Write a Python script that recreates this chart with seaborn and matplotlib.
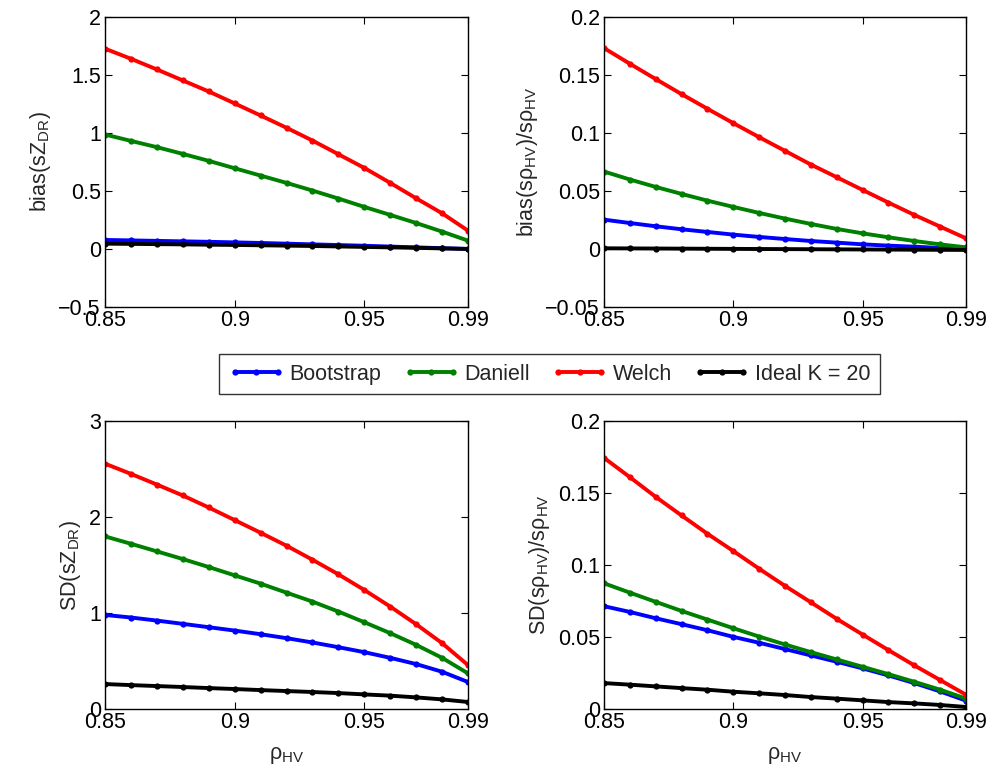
import numpy as np
import pandas as pd
import matplotlib
matplotlib.use("Agg")
import matplotlib.pyplot as plt
import seaborn as sns
from matplotlib.ticker import FuncFormatter

# correlation coefficient grid
rho_hv = [0.85, 0.86, 0.87, 0.88, 0.89, 0.90, 0.91, 0.92, 0.93, 0.94, 0.95, 0.96, 0.97, 0.98, 0.99]

methods = ["Bootstrap", "Daniell", "Welch", "Ideal K = 20"]
colors = {"Bootstrap": "#0000ff", "Daniell": "#008000", "Welch": "#ff0000", "Ideal K = 20": "#000000"}

# bias of the spectral differential reflectivity
bias_zdr_bootstrap = [0.078, 0.074, 0.070, 0.066, 0.062, 0.057, 0.052, 0.046, 0.040, 0.034, 0.028, 0.021, 0.014, 0.007, 0.000]
bias_zdr_daniell = [0.987, 0.932, 0.878, 0.820, 0.760, 0.696, 0.633, 0.570, 0.504, 0.435, 0.363, 0.294, 0.224, 0.150, 0.072]
bias_zdr_welch = [1.727, 1.640, 1.548, 1.453, 1.358, 1.255, 1.151, 1.045, 0.935, 0.817, 0.699, 0.570, 0.437, 0.308, 0.158]
bias_zdr_ideal = [0.046, 0.044, 0.042, 0.040, 0.037, 0.035, 0.032, 0.029, 0.026, 0.022, 0.018, 0.014, 0.010, 0.005, 0.001]

# normalised bias of the spectral co-polar correlation coefficient
bias_rho_bootstrap = [0.0253, 0.0224, 0.0196, 0.0170, 0.0147, 0.0124, 0.0104, 0.0086, 0.0069, 0.0055, 0.0040, 0.0029, 0.0020, 0.0009, 0.0000]
bias_rho_daniell = [0.0668, 0.0599, 0.0535, 0.0475, 0.0417, 0.0363, 0.0311, 0.0262, 0.0216, 0.0173, 0.0135, 0.0101, 0.0069, 0.0040, 0.0014]
bias_rho_welch = [0.1732, 0.1597, 0.1465, 0.1335, 0.1209, 0.1085, 0.0964, 0.0846, 0.0728, 0.0619, 0.0509, 0.0400, 0.0294, 0.0193, 0.0092]
bias_rho_ideal = [0.0006, 0.0005, 0.0004, 0.0003, 0.0002, 0.0001, 0.0000, -0.0001, -0.0002, -0.0003, -0.0004, -0.0005, -0.0006, -0.0007, -0.0008]

# standard deviation of the spectral differential reflectivity
sd_zdr_bootstrap = [0.980, 0.953, 0.921, 0.887, 0.852, 0.817, 0.779, 0.738, 0.693, 0.644, 0.592, 0.533, 0.468, 0.388, 0.281]
sd_zdr_daniell = [1.798, 1.721, 1.642, 1.562, 1.479, 1.392, 1.306, 1.212, 1.119, 1.015, 0.904, 0.790, 0.668, 0.533, 0.371]
sd_zdr_welch = [2.556, 2.449, 2.338, 2.224, 2.099, 1.968, 1.836, 1.701, 1.555, 1.403, 1.240, 1.067, 0.883, 0.686, 0.457]
sd_zdr_ideal = [0.260, 0.249, 0.239, 0.229, 0.218, 0.208, 0.197, 0.187, 0.177, 0.166, 0.152, 0.139, 0.121, 0.100, 0.073]

# normalised standard deviation of the spectral co-polar correlation coefficient
sd_rho_bootstrap = [0.0714, 0.0674, 0.0630, 0.0589, 0.0547, 0.0501, 0.0460, 0.0416, 0.0372, 0.0328, 0.0282, 0.0233, 0.0180, 0.0122, 0.0058]
sd_rho_daniell = [0.0873, 0.0808, 0.0744, 0.0681, 0.0621, 0.0561, 0.0503, 0.0448, 0.0395, 0.0344, 0.0293, 0.0242, 0.0189, 0.0134, 0.0072]
sd_rho_welch = [0.1744, 0.1610, 0.1473, 0.1344, 0.1217, 0.1097, 0.0974, 0.0855, 0.0741, 0.0626, 0.0517, 0.0409, 0.0303, 0.0201, 0.0099]
sd_rho_ideal = [0.0180, 0.0169, 0.0157, 0.0145, 0.0134, 0.0120, 0.0109, 0.0097, 0.0083, 0.0072, 0.0060, 0.0048, 0.0039, 0.0028, 0.0014]

x_ticks = [0.85, 0.9, 0.95, 0.99]

FS = 15.5

sns.set_style("ticks")
plt.rcParams.update({
    "font.family": ["Liberation Sans", "DejaVu Sans"],
    "mathtext.fontset": "custom",
    "mathtext.rm": "Liberation Sans",
    "mathtext.it": "Liberation Sans:italic",
    "mathtext.bf": "Liberation Sans:bold",
    "font.size": FS,
    "xtick.direction": "in",
    "ytick.direction": "in",
    "xtick.top": True,
    "ytick.right": True,
    "xtick.major.size": 5,
    "ytick.major.size": 5,
    "xtick.major.width": 0.8,
    "ytick.major.width": 0.8,
    "axes.linewidth": 1.0,
    "axes.edgecolor": "black",
    "xtick.color": "black",
    "ytick.color": "black",
    "xtick.labelsize": FS,
    "ytick.labelsize": FS,
})


def long_frame(series):
    rows = []
    for name, vals in zip(methods, series):
        for xv, yv in zip(rho_hv, vals):
            rows.append({"rho": xv, "value": yv, "method": name})
    return pd.DataFrame(rows)


fmt = FuncFormatter(lambda v, pos: f"{v:g}".replace("-", "\u2212"))

W, H = 995, 776
fig = plt.figure(figsize=(W / 100, H / 100), dpi=100)

panels = [
    # (left, right, top, bottom) in pixels, data, y-limits, y-ticks, y-label, x-label
    ((105, 468, 17, 307), [bias_zdr_bootstrap, bias_zdr_daniell, bias_zdr_welch, bias_zdr_ideal],
     (-0.5, 2), [-0.5, 0, 0.5, 1, 1.5, 2], r"bias(sZ$_{\mathrm{DR}}$)", None),
    ((604, 966, 17, 307), [bias_rho_bootstrap, bias_rho_daniell, bias_rho_welch, bias_rho_ideal],
     (-0.05, 0.2), [-0.05, 0, 0.05, 0.1, 0.15, 0.2], "bias(sρ$_{\\mathrm{HV}}$)/sρ$_{\\mathrm{HV}}$", None),
    ((105, 468, 421, 709), [sd_zdr_bootstrap, sd_zdr_daniell, sd_zdr_welch, sd_zdr_ideal],
     (0, 3), [0, 1, 2, 3], r"SD(sZ$_{\mathrm{DR}}$)", "ρ$_{\\mathrm{HV}}$"),
    ((604, 966, 421, 709), [sd_rho_bootstrap, sd_rho_daniell, sd_rho_welch, sd_rho_ideal],
     (0, 0.2), [0, 0.05, 0.1, 0.15, 0.2], "SD(sρ$_{\\mathrm{HV}}$)/sρ$_{\\mathrm{HV}}$", "ρ$_{\\mathrm{HV}}$"),
]

handles = None
for (l, r, t, b), series, ylim, yticks, ylabel, xlabel in panels:
    ax = fig.add_axes([l / W, 1 - b / H, (r - l) / W, (b - t) / H])
    df = long_frame(series)
    sns.lineplot(data=df, x="rho", y="value", hue="method", hue_order=methods,
                 palette=colors, marker="o", markersize=4.5, markeredgewidth=0,
                 linewidth=2.8, ax=ax, legend=True)
    handles, labels = ax.get_legend_handles_labels()
    ax.get_legend().remove()
    ax.set_xlim(0.85, 0.99)
    ax.set_ylim(*ylim)
    ax.set_xticks(x_ticks)
    ax.set_yticks(yticks)
    ax.xaxis.set_major_formatter(fmt)
    ax.yaxis.set_major_formatter(fmt)
    ax.set_ylabel(ylabel, fontsize=FS, labelpad=4)
    ax.set_xlabel(xlabel if xlabel else "", fontsize=FS, labelpad=9)
    ax.tick_params(axis="y", pad=3)
    ax.tick_params(axis="x", pad=2)
    for s in ax.spines.values():
        s.set_visible(True)

leg = fig.legend(handles, labels, loc="center", bbox_to_anchor=(549.5 / W, 1 - 374 / H),
                 ncol=4, frameon=True, fancybox=False, edgecolor="black", fontsize=FS,
                 handlelength=2.6, handletextpad=0.25, columnspacing=1.0,
                 borderpad=0.45, borderaxespad=0, numpoints=3)
leg.get_frame().set_linewidth(1.0)
for ln in leg.get_lines():
    ln.set_linewidth(2.8)
    ln.set_markersize(4.5)

fig.savefig("out.png", dpi=100)
